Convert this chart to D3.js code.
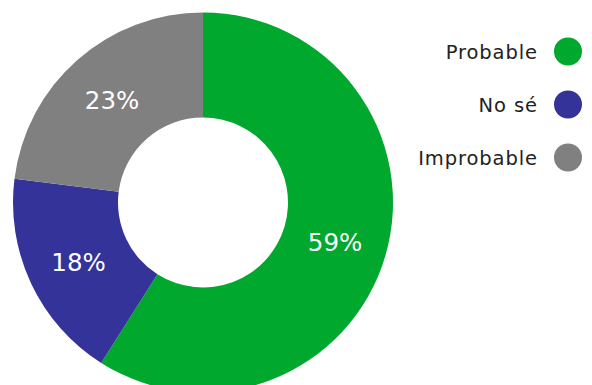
<!DOCTYPE html>
<html>
<head>
<meta charset="utf-8">
<script src="https://cdn.jsdelivr.net/npm/d3@7"></script>
<style>
  html, body { margin: 0; padding: 0; background: #fff; }
  svg { display: block; }
</style>
</head>
<body>
<svg id="chart" width="592" height="385"></svg>
<script>
// Survey answers and their shares (%)
const categories = ["Probable", "No sé", "Improbable"];
const values = [59, 18, 23];
const colors = ["#00a82e", "#34339a", "#808080"];

const svg = d3.select("#chart");
const cx = 203, cy = 202.5;
const outerR = 190, innerR = 85;
const fontFamily = "'DejaVu Sans', 'Open Sans', sans-serif";

const pie = d3.pie().sort(null).value(d => d.value);
const arcs = pie(categories.map((c, i) => ({ name: c, value: values[i], color: colors[i] })));
const arc = d3.arc().innerRadius(innerR).outerRadius(outerR);

const g = svg.append("g").attr("transform", `translate(${cx},${cy})`);

g.selectAll("path.slice")
  .data(arcs)
  .join("path")
  .attr("class", "slice")
  .attr("d", arc)
  .attr("fill", d => d.data.color);

// Percentage labels at the middle of each ring segment
g.selectAll("text.pct")
  .data(arcs)
  .join("text")
  .attr("class", "pct")
  .attr("transform", d => `translate(${arc.centroid(d)})`)
  .attr("text-anchor", "middle")
  .attr("dy", "0.4em")
  .attr("fill", "#fff")
  .style("font-family", fontFamily)
  .style("font-size", "24.5px")
  .text(d => d.data.value + "%");

// Legend: label on the left, swatch circle on the right
const legend = svg.append("g");
const ly = d3.scalePoint().domain(categories).range([51.5, 157.5]);
const item = legend.selectAll("g")
  .data(categories.map((c, i) => ({ name: c, color: colors[i] })))
  .join("g")
  .attr("transform", d => `translate(0,${ly(d.name)})`);

item.append("circle")
  .attr("cx", 568)
  .attr("r", 14)
  .attr("fill", d => d.color);

item.append("text")
  .attr("x", 537.9)
  .attr("dy", "0.36em")
  .attr("text-anchor", "end")
  .attr("fill", "#222")
  .style("font-family", fontFamily)
  .style("font-size", "19.5px")
  .style("letter-spacing", "0.9px")
  .text(d => d.name);
</script>
</body>
</html>
